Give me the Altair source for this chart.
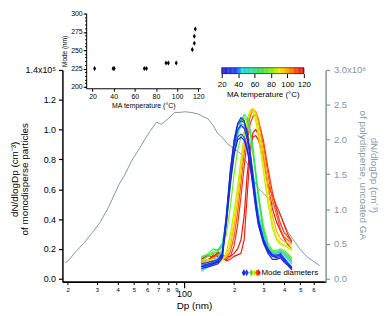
import altair as alt
import pandas as pd

GRAY = "#7f97a3"
FONT = "Liberation Sans"

# ---- polydisperse, uncoated GA (right axis, units of 1e6 cm^-3) ----
poly_dp = [19.3, 20, 22.4, 25, 28.1, 31.5, 35.4, 40.6, 44, 48.6, 53, 58.4, 63, 68.4,
           73.3, 80.4, 88, 95, 101, 110, 121, 130, 139, 150, 159, 170, 182.5, 200,
           219, 245, 275, 300, 330, 360, 387, 420, 454, 500, 545, 600, 654]
poly_val = [0.23, 0.25, 0.39, 0.51, 0.66, 0.82, 1.04, 1.35, 1.49, 1.70, 1.84, 2.01, 2.13, 2.25,
            2.22, 2.30, 2.39, 2.39, 2.40, 2.39, 2.37, 2.33, 2.30, 2.20, 2.09, 2.03, 1.94, 1.87,
            1.80, 1.62, 1.32, 1.23, 1.13, 0.99, 0.87, 0.68, 0.56, 0.42, 0.32, 0.25, 0.19]

# ---- monodisperse distributions (left axis, units of 1e5 cm^-3) ----
DP_GRID = [127, 140, 150, 160, 170, 180, 190, 200, 210, 220, 230, 240,
           250, 260, 270, 280, 300, 320, 340, 360, 380, 400, 420, 445]

mono_120 = [0.13, 0.16, 0.14, 0.18, 0.16, 0.15, 0.15, 0.17, 0.20, 0.26, 0.42, 0.70,
            0.88, 0.95, 0.96, 0.93, 0.82, 0.62, 0.47, 0.38, 0.32, 0.27, 0.23, 0.20]
mono_118 = [0.10, 0.12, 0.16, 0.15, 0.14, 0.12, 0.13, 0.15, 0.16, 0.17, 0.26, 0.56,
            0.86, 0.98, 1.00, 0.97, 0.80, 0.63, 0.56, 0.49, 0.43, 0.36, 0.30, 0.25]
mono_114 = [0.11, 0.13, 0.15, 0.17, 0.16, 0.13, 0.15, 0.22, 0.36, 0.55, 0.75, 0.92,
            1.04, 1.09, 1.10, 1.06, 0.93, 0.74, 0.58, 0.46, 0.37, 0.31, 0.28, 0.25]
mono_108 = [0.10, 0.12, 0.14, 0.16, 0.15, 0.14, 0.18, 0.28, 0.44, 0.64, 0.84, 0.99,
            1.09, 1.13, 1.12, 1.07, 0.90, 0.70, 0.53, 0.43, 0.33, 0.28, 0.26, 0.24]
mono_98 = [0.11, 0.12, 0.14, 0.13, 0.13, 0.15, 0.22, 0.35, 0.52, 0.72, 0.90, 1.04,
           1.12, 1.14, 1.12, 1.05, 0.85, 0.62, 0.42, 0.32, 0.27, 0.25, 0.24, 0.23]
mono_91 = [0.12, 0.13, 0.12, 0.11, 0.12, 0.16, 0.25, 0.40, 0.57, 0.76, 0.93, 1.06,
           1.13, 1.14, 1.10, 1.01, 0.78, 0.55, 0.37, 0.28, 0.24, 0.23, 0.22, 0.20]
mono_86 = [0.10, 0.12, 0.11, 0.10, 0.12, 0.18, 0.30, 0.45, 0.62, 0.80, 0.96, 1.07,
           1.12, 1.12, 1.06, 0.96, 0.72, 0.50, 0.34, 0.26, 0.23, 0.22, 0.21, 0.19]
mono_76 = [0.15, 0.16, 0.18, 0.20, 0.22, 0.30, 0.48, 0.70, 0.86, 0.95, 0.98, 0.97,
           0.92, 0.83, 0.70, 0.57, 0.36, 0.24, 0.19, 0.19, 0.20, 0.19, 0.17, 0.14]
mono_70 = [0.12, 0.15, 0.17, 0.18, 0.22, 0.37, 0.62, 0.83, 0.96, 1.04, 1.08, 1.06,
           0.98, 0.85, 0.69, 0.54, 0.31, 0.21, 0.17, 0.17, 0.19, 0.18, 0.16, 0.13]
mono_64 = [0.14, 0.17, 0.20, 0.19, 0.24, 0.40, 0.66, 0.86, 0.98, 1.06, 1.10, 1.08,
           1.00, 0.88, 0.72, 0.57, 0.33, 0.22, 0.18, 0.17, 0.18, 0.17, 0.15, 0.12]
mono_47 = [0.05, 0.08, 0.11, 0.13, 0.19, 0.40, 0.66, 0.87, 0.99, 1.02, 1.01, 0.95,
           0.84, 0.71, 0.57, 0.44, 0.30, 0.21, 0.17, 0.17, 0.18, 0.16, 0.13, 0.10]
mono_44 = [0.06, 0.09, 0.12, 0.14, 0.20, 0.42, 0.68, 0.88, 1.00, 1.04, 1.03, 0.96,
           0.85, 0.71, 0.56, 0.43, 0.29, 0.21, 0.18, 0.18, 0.19, 0.17, 0.14, 0.11]
mono_38 = [0.09, 0.10, 0.11, 0.13, 0.17, 0.40, 0.66, 0.85, 0.95, 0.97, 0.95, 0.88,
           0.77, 0.63, 0.49, 0.37, 0.25, 0.18, 0.15, 0.15, 0.16, 0.13, 0.10, 0.07]
mono_34 = [0.10, 0.11, 0.12, 0.12, 0.17, 0.44, 0.73, 0.92, 1.03, 1.06, 1.05, 0.97,
           0.84, 0.69, 0.53, 0.40, 0.27, 0.20, 0.16, 0.15, 0.17, 0.14, 0.11, 0.08]
mono_28 = [0.08, 0.10, 0.10, 0.12, 0.15, 0.40, 0.69, 0.89, 1.00, 1.03, 1.01, 0.94,
           0.81, 0.66, 0.51, 0.38, 0.26, 0.19, 0.16, 0.16, 0.16, 0.13, 0.10, 0.07]
mono_22b = [0.07, 0.08, 0.09, 0.10, 0.14, 0.38, 0.64, 0.83, 0.93, 0.95, 0.93, 0.86,
            0.75, 0.61, 0.47, 0.36, 0.24, 0.17, 0.13, 0.13, 0.14, 0.11, 0.09, 0.06]
mono_22a = [0.08, 0.09, 0.10, 0.11, 0.16, 0.42, 0.72, 0.93, 1.04, 1.08, 1.06, 0.98,
            0.84, 0.68, 0.52, 0.39, 0.26, 0.19, 0.15, 0.14, 0.15, 0.12, 0.10, 0.07]

MONO_T = [120, 118, 114, 108, 98, 91, 86, 76, 70, 64, 47, 44, 38, 34, 28, 22, 22]
MONO_SERIES = [mono_120, mono_118, mono_114, mono_108, mono_98, mono_91, mono_86,
               mono_76, mono_70, mono_64, mono_47, mono_44, mono_38, mono_34,
               mono_28, mono_22b, mono_22a]

# ---- mode diameter markers on main plot ----
MARK_DP = [229, 238, 254, 265, 275, 281]
MARK_T = [22, 36, 68, 88, 108, 118]
MARK_Y = 0.04

# ---- inset: mode vs MA temperature ----
INSET_T = [22, 39.5, 40.5, 69, 71, 89.5, 91.7, 99.2, 114.4, 116.3, 116.3, 117.2]
INSET_MODE = [225, 225, 225, 225, 225, 232.5, 232.5, 232.5, 250.8, 259.4, 269, 278.9]

# colour scale (MA temperature) and colour bar ticks
COL_DOMAIN = [20, 38, 44, 56, 68, 82, 90, 100, 110, 120]
COL_RANGE = ["#2020d8", "#2a48f0", "#38d8e0", "#40e0a0", "#40e040",
             "#90f000", "#f0e800", "#ffa000", "#ff4010", "#e81010"]
CBAR_TICKS = [20, 40, 60, 80, 100, 120]
CBAR_STEPS = list(range(20, 120))

# ---------------- build tables ----------------
poly_df = pd.DataFrame({"dp": poly_dp, "val": poly_val})
rows = []
for i, (t, vals) in enumerate(zip(MONO_T, MONO_SERIES)):
    for d, v in zip(DP_GRID, vals):
        rows.append({"cid": i, "T": t, "dp": d, "val": v})
mono_df = pd.DataFrame(rows)
mark_df = pd.DataFrame({"dp": MARK_DP, "T": MARK_T, "val": [MARK_Y] * len(MARK_DP)})
text_df = pd.DataFrame({"dp": [292], "val": [MARK_Y], "label": ["Mode diameters"]})
inset_df = pd.DataFrame({"T": INSET_T, "mode": INSET_MODE})
cbar_df = pd.DataFrame({"T": CBAR_STEPS, "T2": [t + 1.4 for t in CBAR_STEPS],
                        "b": 0, "t": 1})
frame_df = pd.DataFrame({"T": [20], "T2": [120], "b": [0], "t": [1]})

W, H = 266, 214
DIAMOND = "M0,-1L0.6,0L0,1L-0.6,0Z"

x_main = alt.Scale(type="log", domain=[18.6, 710], nice=False)
y_mono = alt.Scale(domain=[-0.02, 1.4], nice=False, zero=False)
y_poly = alt.Scale(domain=[-0.0428, 3.0], nice=False, zero=False)
col_scale = alt.Scale(domain=COL_DOMAIN, range=COL_RANGE)

poly = alt.Chart(poly_df).mark_line(color=GRAY, strokeWidth=1).encode(
    x=alt.X("dp:Q", scale=x_main, axis=alt.Axis(
        orient="bottom", values=[100], labelExpr="'100'", tickSize=6, tickWidth=1.2,
        tickColor="black", domainColor="black", domainWidth=1.5, labelColor="black",
        labelFontSize=9, labelPadding=2, grid=False, title="Dp (nm)", titleFontSize=10,
        titleFontWeight="normal", titlePadding=2, titleColor="black")),
    y=alt.Y("val:Q", scale=y_poly, axis=alt.Axis(
        orient="right", values=[0, 0.5, 1.0, 1.5, 2.0, 2.5, 3.0],
        labelExpr="datum.value >= 2.99 ? '3.0x10⁶' : format(datum.value, '.1f')",
        domainColor=GRAY, tickColor=GRAY, labelColor=GRAY, domainWidth=1.5,
        tickWidth=1.2, tickSize=4, labelPadding=4, labelFontSize=9.5, grid=False,
        title=["dN/dlogDp (cm⁻³)", "of polydisperse, uncoated GA"], titleColor=GRAY,
        titleFontSize=10, titleFontWeight="normal", titleAngle=90, titleX=48,
        titleY=106, titleBaseline="middle", titleAlign="center", titleLineHeight=11)),
)

mono = alt.Chart(mono_df).mark_line(strokeWidth=1.2).encode(
    x=alt.X("dp:Q", scale=x_main, axis=alt.Axis(
        orient="bottom", values=[20, 30, 40, 50, 60, 70, 80, 90, 200, 300, 400, 500, 600],
        labelExpr="substring(format(datum.value, 'd'), 0, 1)", tickSize=3, tickWidth=1,
        tickColor="black", domainColor="black", domainWidth=1.5, labelColor="black",
        labelFontSize=6, labelPadding=2, grid=False, title=None)),
    y=alt.Y("val:Q", scale=y_mono, axis=alt.Axis(
        orient="left", values=[0, 0.2, 0.4, 0.6, 0.8, 1.0, 1.2, 1.4],
        labelExpr="datum.value >= 1.39 ? '1.4x10⁵' : format(datum.value, '.1f')",
        domainColor="black", tickColor="black", labelColor="black", domainWidth=1.5,
        tickWidth=1.2, tickSize=4, labelPadding=3, labelFontSize=9, grid=False,
        title=["dN/dlogDp (cm⁻³)", "of monodisperse particles"], titleFontSize=10,
        titleFontWeight="normal", titleAngle=-90, titleX=-48, titleY=110,
        titleBaseline="middle", titleAlign="center", titleLineHeight=10,
        titleColor="black")),
    color=alt.Color("T:Q", scale=col_scale, legend=None),
    detail="cid:N",
)

marks = alt.Chart(mark_df).mark_point(shape=DIAMOND, filled=True, size=50, opacity=1).encode(
    x=alt.X("dp:Q", scale=x_main, axis=None),
    y=alt.Y("val:Q", scale=y_mono, axis=None),
    color=alt.Color("T:Q", scale=col_scale, legend=None),
)

label = alt.Chart(text_df).mark_text(align="left", baseline="middle", fontSize=8,
                                     color="black").encode(
    x=alt.X("dp:Q", scale=x_main, axis=None),
    y=alt.Y("val:Q", scale=y_mono, axis=None),
    text="label:N",
)

# ---- colour bar (own scales placed above the curves) ----
cb_x = alt.Scale(domain=[20, 120], range=[161, 244], nice=False, zero=False)
cb_y = alt.Scale(domain=[0, 1], range=[3.7, -2.3], nice=False, zero=False)

cbar = alt.Chart(cbar_df).mark_rect(strokeWidth=0).encode(
    x=alt.X("T:Q", scale=cb_x, axis=alt.Axis(
        orient="bottom", offset=-(H - 3.7), values=CBAR_TICKS, tickSize=4,
        tickColor="black", domain=False, labelFontSize=8, labelPadding=3,
        labelOverlap=False, labelFlush=False, labelBound=False,
        labelColor="black", grid=False, title="MA temperature (°C)", titleFontSize=8,
        titleFontWeight="normal", titlePadding=2, titleColor="black")),
    x2="T2:Q",
    y=alt.Y("b:Q", scale=cb_y, axis=None),
    y2="t:Q",
    color=alt.Color("T:Q", scale=col_scale, legend=None),
)

cframe = alt.Chart(frame_df).mark_rect(fillOpacity=0, stroke="black",
                                       strokeWidth=0.6).encode(
    x=alt.X("T:Q", scale=cb_x, axis=None),
    x2="T2:Q",
    y=alt.Y("b:Q", scale=cb_y, axis=None),
    y2="t:Q",
)

# ---- inset ----
inset_x = alt.Scale(domain=[14, 122], range=[24, 139.4], nice=False, zero=False)
inset_y = alt.Scale(domain=[198, 300], range=[18.5, -57], nice=False, zero=False)

inset = alt.Chart(inset_df).mark_point(shape=DIAMOND, filled=True, size=26,
                                       color="black", opacity=1).encode(
    x=alt.X("T:Q", scale=inset_x, axis=alt.Axis(
        orient="bottom", offset=-195.5, values=[20, 40, 60, 80, 100, 120], tickSize=3,
        labelFontSize=7, labelPadding=1, labelOverlap=False, domainColor="black",
        tickColor="black", labelColor="black", grid=False, title="MA temperature (°C)",
        titleFontSize=7, titleFontWeight="normal", titlePadding=2, titleColor="black")),
    y=alt.Y("mode:Q", scale=inset_y, axis=alt.Axis(
        orient="left", offset=-24, values=[200, 225, 250, 275, 300], tickSize=3,
        labelFontSize=7, labelPadding=1, labelOverlap=False, domainColor="black",
        tickColor="black", labelColor="black", grid=False, title="Mode (nm)",
        titleFontSize=6.5, titleFontWeight="normal", titlePadding=3, titleColor="black")),
)

inset_minor = alt.Chart(inset_df).mark_point(opacity=0).encode(
    x=alt.X("T:Q", scale=inset_x, axis=None),
    y=alt.Y("mode:Q", scale=inset_y, axis=alt.Axis(
        orient="left", offset=-24, values=list(range(200, 301, 5)), tickSize=1.6,
        labels=False, domain=False, tickColor="black", grid=False, title=None)),
)

chart = alt.layer(poly, mono, marks, label, cbar, cframe, inset, inset_minor).resolve_scale(
    x="independent", y="independent"
).properties(
    width=W, height=H,
    autosize=alt.AutoSizeParams(type="none"),
    padding={"left": 55, "top": 61, "right": 59, "bottom": 31},
).configure(font=FONT).configure_view(stroke=None)

chart.save("out.html", embed_options={"renderer": "svg", "actions": False})
